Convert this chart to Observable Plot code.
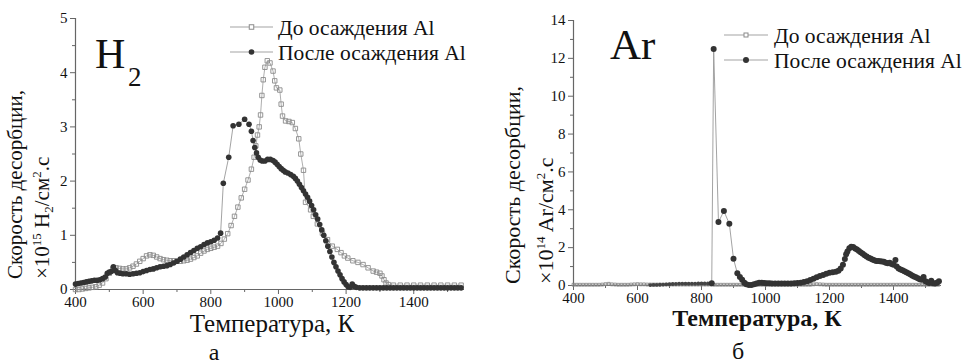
<!DOCTYPE html>
<html><head><meta charset="utf-8">
<script src="https://cdn.jsdelivr.net/npm/d3@7"></script>
<script src="https://cdn.jsdelivr.net/npm/@observablehq/plot@0.6"></script>
<style>
body{margin:0;background:#fff;}
#wrap{position:relative;width:969px;height:364px;display:flex;}
#wrap svg{overflow:visible;display:block}
</style></head><body><div id="wrap"></div>
<script>
// ---- Panel a: H2 ----
const h2BeforeT = [400,410,420,430,440,450,460,470,480,490,500,510,520,530,540,550,560,570,580,590,600,610,620,630,640,650,660,670,680,690,700,710,720,730,740,750,760,770,780,790,800,810,820,830,840,850,860,870,880,890,900,910,920,928,933,938,943,947,951,955,960,967,975,984,989,994,1004,1008,1012,1021,1031,1041,1050,1060,1066,1074,1080,1095,1103,1115,1130,1145,1159,1174,1185,1195,1205,1220,1235,1250,1265,1280,1290,1300,1306,1312,1318,1325,1340,1360,1380,1400,1420,1440,1460,1480,1500,1520,1540];
const h2BeforeV = [0.0,0.0,0.01,0.02,0.03,0.04,0.05,0.08,0.12,0.2,0.3,0.38,0.4,0.39,0.38,0.38,0.4,0.43,0.47,0.52,0.57,0.62,0.64,0.63,0.6,0.57,0.55,0.54,0.53,0.53,0.52,0.52,0.53,0.54,0.56,0.59,0.62,0.67,0.71,0.74,0.76,0.78,0.8,0.85,0.93,1.03,1.18,1.35,1.52,1.69,1.85,2.02,2.22,2.44,2.65,2.85,3.0,3.22,3.58,3.87,4.1,4.22,4.18,4.03,3.85,3.72,3.68,3.42,3.2,3.11,3.1,3.08,2.97,2.78,2.5,2.2,1.61,1.47,1.35,1.21,1.04,0.92,0.8,0.74,0.68,0.62,0.58,0.53,0.5,0.46,0.4,0.34,0.32,0.3,0.25,0.18,0.12,0.09,0.08,0.08,0.08,0.08,0.08,0.08,0.08,0.08,0.08,0.08,0.08];
const h2AfterT = [400,408,416,424,432,440,448,456,464,472,480,488,494,500,506,512,518,524,532,540,550,560,570,580,590,600,610,620,630,640,650,660,670,680,690,700,710,720,730,740,750,760,770,780,790,800,810,820,829,837,853,866,883,900,913,920,925,930,935,940,946,952,960,968,976,984,990,996,1002,1008,1014,1020,1028,1036,1044,1050,1056,1062,1068,1074,1080,1086,1092,1098,1104,1110,1116,1122,1128,1134,1140,1146,1152,1158,1164,1170,1176,1182,1188,1194,1200,1206,1212,1218,1224,1230,1240,1250,1260,1270,1280,1290,1300,1310,1320,1330,1340,1350,1360,1370,1380,1390,1400,1410,1420,1430,1440,1450,1460,1470,1480,1490,1500,1510,1520,1530,1540];
const h2AfterV = [0.1,0.11,0.12,0.13,0.14,0.15,0.16,0.17,0.17,0.18,0.2,0.23,0.3,0.32,0.33,0.42,0.35,0.31,0.3,0.29,0.29,0.28,0.29,0.3,0.31,0.33,0.35,0.37,0.38,0.4,0.42,0.43,0.44,0.46,0.49,0.52,0.56,0.6,0.64,0.68,0.72,0.76,0.79,0.83,0.86,0.88,0.91,0.95,1.04,1.96,2.44,3.02,3.05,3.14,3.05,2.92,2.75,2.62,2.52,2.44,2.39,2.37,2.37,2.4,2.4,2.38,2.35,2.31,2.27,2.23,2.2,2.17,2.15,2.12,2.09,2.05,2.0,1.94,1.88,1.82,1.76,1.7,1.63,1.55,1.47,1.38,1.3,1.2,1.1,1.0,0.9,0.8,0.7,0.6,0.5,0.42,0.34,0.27,0.2,0.14,0.09,0.05,0.04,0.1,0.06,0.04,0.03,0.03,0.03,0.03,0.03,0.03,0.03,0.03,0.03,0.03,0.03,0.03,0.03,0.03,0.03,0.03,0.03,0.03,0.03,0.03,0.03,0.03,0.03,0.03,0.03,0.03,0.03,0.03,0.03,0.03,0.03];

// ---- Panel б: Ar ----
const arBeforeT = [400,410,420,430,440,450,460,470,480,490,500,510,520,530,540,550,560,570,580,590,600,610,620,630,640,650,660,670,680,690,700,710,720,730,740,750,760,770,780,790,800,810,820,830,840,850,860,870,880,890,900,910,920,930,940,950,960,970,980,990,1000,1010,1020,1030,1040,1050,1060,1070,1080,1090,1100,1110,1120,1130,1140,1150,1160,1170,1180,1190,1200,1210,1220,1230,1240,1250,1260,1270,1280,1290,1300,1310,1320,1330,1340,1350,1360,1370,1380,1390,1400,1410,1420,1430,1440,1450,1460,1470,1480,1490,1500,1510,1520,1530,1540];
const arBeforeV = [0.04,0.04,0.04,0.04,0.04,0.04,0.04,0.04,0.04,0.05,0.07,0.09,0.06,0.05,0.04,0.04,0.04,0.04,0.05,0.06,0.07,0.06,0.06,0.05,0.05,0.05,0.05,0.05,0.05,0.05,0.05,0.05,0.05,0.05,0.05,0.05,0.05,0.05,0.05,0.05,0.05,0.05,0.05,0.05,0.04,0.04,0.04,0.04,0.04,0.04,0.04,0.04,0.04,0.04,0.04,0.04,0.04,0.04,0.04,0.04,0.04,0.04,0.04,0.04,0.04,0.04,0.04,0.04,0.04,0.04,0.04,0.04,0.04,0.04,0.04,0.06,0.07,0.06,0.05,0.04,0.04,0.04,0.04,0.04,0.04,0.04,0.04,0.04,0.04,0.04,0.04,0.04,0.04,0.04,0.04,0.04,0.04,0.04,0.04,0.04,0.04,0.04,0.04,0.04,0.04,0.04,0.04,0.04,0.04,0.04,0.04,0.04,0.04,0.04,0.04];
// low-temperature part of the "after" Ar curve (small, crowded markers)
const arAfterLowT = [640,650,660,670,680,690,700,710,720,730,740,750,760,770,780,790,800,810,820,830];
const arAfterLowV = [0.02,0.03,0.03,0.04,0.05,0.06,0.07,0.08,0.09,0.1,0.1,0.1,0.1,0.1,0.1,0.11,0.11,0.11,0.11,0.12];
const arAfterT = [832,838,853,870,887,900,912,920,927,934,940,948,956,964,972,980,988,996,1004,1012,1020,1030,1040,1050,1060,1070,1080,1090,1100,1110,1120,1130,1140,1150,1160,1170,1180,1190,1200,1210,1220,1228,1235,1242,1248,1252,1256,1262,1268,1274,1280,1286,1292,1298,1304,1310,1316,1322,1328,1334,1340,1346,1352,1358,1364,1370,1376,1382,1388,1394,1400,1406,1410,1416,1422,1428,1434,1440,1446,1452,1458,1464,1470,1476,1482,1488,1494,1500,1506,1512,1518,1524,1530,1536,1542];
const arAfterV = [0.12,12.5,3.35,3.93,3.26,1.41,0.65,0.45,0.3,0.15,0.07,0.03,0.03,0.06,0.1,0.14,0.15,0.13,0.12,0.12,0.11,0.11,0.1,0.1,0.1,0.1,0.11,0.12,0.13,0.15,0.18,0.23,0.29,0.36,0.43,0.5,0.56,0.62,0.67,0.7,0.72,0.78,0.9,1.1,1.4,1.65,1.8,1.97,2.05,2.03,1.96,1.9,1.82,1.75,1.68,1.6,1.53,1.47,1.42,1.37,1.33,1.3,1.3,1.28,1.27,1.25,1.2,1.18,1.2,1.13,1.1,1.35,1.0,0.9,0.85,0.8,0.75,0.7,0.65,0.6,0.53,0.48,0.43,0.38,0.33,0.3,0.45,0.22,0.17,0.13,0.25,0.12,0.1,0.15,0.22];

const xMajor = [400,600,800,1000,1200,1400];
const xMinor = [500,700,900,1100,1300,1500];
const h2YMajor = [0,1,2,3,4,5];
const h2YMinor = [0.5,1.5,2.5,3.5,4.5];
const arYMajor = [0,2,4,6,8,10,12,14];
const arYMinor = [1,3,5,7,9,11,13];
const legendLabels = ["До осаждения Al", "После осаждения Al"];
const xTitle = "Температура, К";
const yTitle1 = "Скорость десорбции,";

const zip = (T, V) => T.map((t, i) => ({t, v: V[i]}));
const FONT = "'Liberation Serif', 'Times New Roman', serif";

function panel(o) {
  const before = zip(o.bT, o.bV), after = zip(o.aT, o.aV);
  const low = o.lT ? zip(o.lT, o.lV) : [];
  const afterLine = low.concat(after);
  const svg = Plot.plot({
    width: o.width, height: 364,
    marginLeft: o.ml, marginRight: o.mr, marginTop: o.mt, marginBottom: o.mb,
    x: {domain: [400, 1550]},
    y: {domain: [0, o.ymax]},
    style: {fontFamily: FONT, fontSize: "15px", color: "#111", background: "transparent", overflow: "visible"},
    marks: [
      Plot.axisX({ticks: xMajor, tickSize: 5, tickPadding: 2, label: null, stroke: "#666", fill: "#111", tickFormat: d => String(d)}),
      Plot.axisX({ticks: xMinor, tickSize: 3, text: null, label: null, stroke: "#666"}),
      Plot.axisY({ticks: o.yMajor, tickSize: 5, tickPadding: 3, label: null, stroke: "#666", fill: "#111", tickFormat: d => String(d)}),
      Plot.axisY({ticks: o.yMinor, tickSize: 3, text: null, label: null, stroke: "#666"}),
      Plot.ruleY([0], {stroke: "#666", strokeWidth: 1.2}),
      Plot.ruleX([400], {stroke: "#666", strokeWidth: 1.2}),
      Plot.line(before, {x: "t", y: "v", stroke: "#999", strokeWidth: 0.8}),
      Plot.dot(before, {x: "t", y: "v", symbol: "square", r: o.sqR, stroke: "#8a8a8a", strokeWidth: 0.9, fill: "none"}),
      Plot.line(afterLine, {x: "t", y: "v", stroke: "#999", strokeWidth: 0.9}),
      Plot.dot(low, {x: "t", y: "v", r: 1.9, fill: "#444", stroke: "none"}),
      Plot.dot(after, {x: "t", y: "v", r: o.cR, fill: "#333", stroke: "none"})
    ]
  });
  svg.setAttribute("font-family", FONT);
  return svg;
}

function decorate(svg, o) {
  const s = d3.select(svg);
  const g = s.append("g").attr("font-family", FONT).attr("fill", "#111").attr("text-anchor", "start");
  g.append("text").attr("x", o.bigX).attr("y", o.bigY).attr("font-size", o.bigSize).text(o.bigText);
  if (o.bigSub) g.append("text").attr("x", o.subX).attr("y", o.subY).attr("font-size", 27).text(o.bigSub);
  // legend
  legendLabels.forEach((lab, i) => {
    const y = o.legY[i];
    g.append("line").attr("x1", o.legX1).attr("x2", o.legX2).attr("y1", y).attr("y2", y).attr("stroke", "#999").attr("stroke-width", 0.9);
    const mx = (o.legX1 + o.legX2) / 2;
    if (i === 0) g.append("rect").attr("x", mx - o.legSq / 2).attr("y", y - o.legSq / 2).attr("width", o.legSq).attr("height", o.legSq).attr("fill", "white").attr("stroke", "#8a8a8a");
    else g.append("circle").attr("cx", mx).attr("cy", y).attr("r", o.legC).attr("fill", "#333");
    g.append("text").attr("x", o.legTX).attr("y", y).attr("dy", "0.35em").attr("font-size", 21.5).text(lab);
  });
  // x title
  g.append("text").attr("x", o.xtX).attr("y", o.xtY).attr("text-anchor", "middle").attr("font-size", o.xtS).attr("font-weight", o.xtW).text(xTitle);
  g.append("text").attr("x", o.lettX).attr("y", o.lettY).attr("text-anchor", "middle").attr("font-size", 24).text(o.letter);
  // y titles (rotated; dy is perpendicular to the reading direction)
  g.append("text").attr("transform", `translate(${o.y1X},${o.yStart}) rotate(-90)`).attr("dy", "0.35em").attr("font-size", o.yS).text(yTitle1);
  const t2 = g.append("text").attr("transform", `translate(${o.y2X},${o.yStart}) rotate(-90)`).attr("dy", "0.35em").attr("font-size", o.yS);
  t2.append("tspan").text("×10");
  t2.append("tspan").attr("font-size", 13).attr("dy", -8).text(o.exp);
  t2.append("tspan").attr("dy", 8).text(" " + o.sp);
  if (o.spSub) {
    t2.append("tspan").attr("font-size", 13).attr("dy", 4).text(o.spSub);
    t2.append("tspan").attr("dy", -4).text("/см");
  } else {
    t2.append("tspan").text("/см");
  }
  t2.append("tspan").attr("font-size", 13).attr("dy", -8).text("2");
  t2.append("tspan").attr("dy", 8).text(".с");
}

const wrap = document.getElementById("wrap");
const left = panel({width: 484, ml: 75, mr: 20, mt: 18, mb: 75, ymax: 5, yMajor: h2YMajor, yMinor: h2YMinor,
  bT: h2BeforeT, bV: h2BeforeV, aT: h2AfterT, aV: h2AfterV, sqR: 2.5, cR: 2.8});
decorate(left, {bigText: "H", bigX: 95, bigY: 68, bigSize: 42, bigSub: "2", subX: 128, subY: 86,
  legY: [27, 52], legX1: 230, legX2: 273, legTX: 278, legSq: 4.5, legC: 2.8,
  xtX: 272, xtY: 332, xtS: 25, xtW: "normal", lettX: 214, lettY: 360, letter: "а",
  y1X: 15, y2X: 42, yStart: 279, yS: 21, exp: "15", sp: "H", spSub: "2"});
wrap.appendChild(left);

const right = panel({width: 485, ml: 89, mr: 28, mt: 20, mb: 79, ymax: 14, yMajor: arYMajor, yMinor: arYMinor,
  bT: arBeforeT, bV: arBeforeV, aT: arAfterT, aV: arAfterV, lT: arAfterLowT, lV: arAfterLowV, sqR: 1.6, cR: 3.0});
decorate(right, {bigText: "Ar", bigX: 126, bigY: 59, bigSize: 43,
  legY: [35, 60], legX1: 240, legX2: 284, legTX: 290, legSq: 4, legC: 3,
  xtX: 273, xtY: 326, xtS: 24, xtW: "bold", lettX: 254, lettY: 359, letter: "б",
  y1X: 28, y2X: 61, yStart: 284, yS: 22, exp: "14", sp: "Ar", spSub: null});
wrap.appendChild(right);
</script></body></html>
